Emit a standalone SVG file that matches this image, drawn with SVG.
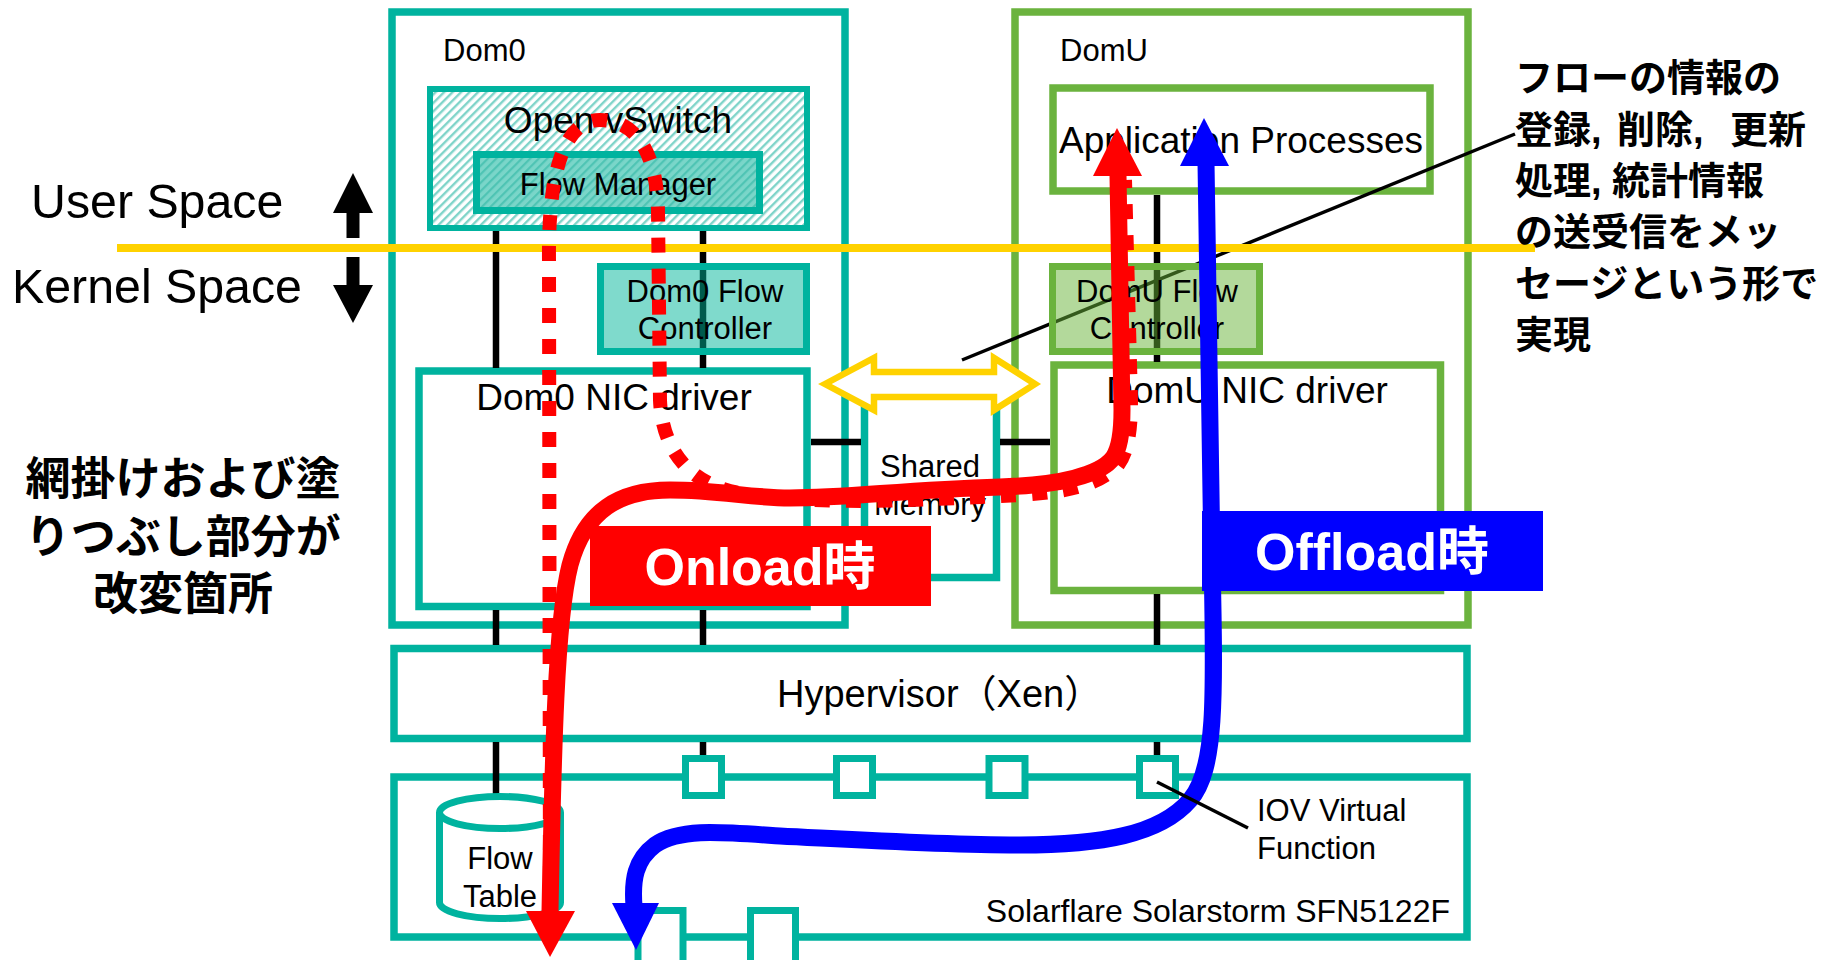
<svg xmlns="http://www.w3.org/2000/svg" width="1827" height="960" viewBox="0 0 1827 960">
<defs>
<style>
.box{fill:#ffffff;stroke-width:7.5}
.open{fill:none;stroke-width:7.5}
.teal{stroke:#00b39f}
.green{stroke:#6bb33e}
.t{font-family:"Liberation Sans",Arial,sans-serif;fill:#000000}
.s31{font-size:31px}
.s37{font-size:37px}
.mid{text-anchor:middle}
.jp{font-family:"Liberation Sans","Noto Sans CJK JP",sans-serif;font-weight:bold}
.conn{stroke:#000000;stroke-width:6.5;fill:none}
.lead{stroke:#000000;stroke-width:3.5;fill:none}
.red{stroke:#ff0000;fill:none}
.blue{stroke:#0000ff;fill:none}
</style>
<pattern id="hatchL" width="6" height="6" patternUnits="userSpaceOnUse" patternTransform="rotate(-45)">
<rect width="6" height="6" fill="#ffffff"/>
<rect width="6" height="2.4" fill="#7fd4c9"/>
</pattern>
<pattern id="hatchD" width="6" height="6" patternUnits="userSpaceOnUse" patternTransform="rotate(-45)">
<rect width="6" height="6" fill="#7ad6c9"/>
<rect width="6" height="2.2" fill="#4fc4b4"/>
</pattern>
</defs>
<rect width="1827" height="960" fill="#ffffff"/>

<g id="dom0"><rect class="open teal" x="392" y="12" width="453" height="613"/><text class="t s31" x="443" y="61">Dom0</text></g>
<g id="domu"><rect class="open green" x="1015" y="12" width="453" height="613"/><text class="t s31" x="1060" y="61">DomU</text></g>
<g id="hypervisor"><rect class="box teal" stroke-width="7" x="394" y="648.5" width="1073" height="90"/><text class="t" style="font-size:38px;font-family:'Liberation Sans','Noto Sans CJK JP',sans-serif" x="777" y="707">Hypervisor（Xen）</text></g>
<g id="nic"><rect class="box teal" stroke-width="7" x="394" y="777" width="1073" height="160"/><text class="t" style="font-size:32px" text-anchor="end" x="1450" y="922">Solarflare Solarstorm SFN5122F</text></g>

<g id="ovs"><rect x="430" y="89" width="377" height="139" fill="url(#hatchL)" stroke="#00b39f" stroke-width="6"/><text class="t s37 mid" x="618" y="133">Open vSwitch</text></g>
<g id="flow-manager"><rect x="476.5" y="154.5" width="283" height="56" fill="url(#hatchD)" stroke="#00b39f" stroke-width="7"/><text class="t s31 mid" x="618" y="195">Flow Manager</text></g>
<g id="app"><rect class="box green" stroke-width="8" x="1053" y="88" width="377" height="103"/><text class="t s37 mid" x="1241" y="153">Application Processes</text></g>
<g id="dom0-nic"><rect class="box teal" x="419" y="371" width="388" height="235.5"/><text class="t s37 mid" x="614" y="410">Dom0 NIC driver</text></g>
<g id="domu-nic"><rect class="box green" x="1054" y="365" width="386.5" height="225.5"/><text class="t s37 mid" x="1247" y="403">DomU NIC driver</text></g>
<g id="shared-memory"><rect class="box teal" x="864.5" y="384" width="132" height="193.5"/><text class="t s31 mid" x="930" y="477">Shared</text><text class="t s31 mid" x="930" y="515">Memory</text></g>

<g id="connectors">
<path class="conn" d="M496,231V368M703,231V368M1157,195V362M496,610V645M703,610V645M1157,594V645M496,742V797M703,742V758M1157,742V758M811,442H861M1000,442H1050"/>
<path class="lead" d="M962,360L1515,134"/>
</g>

<g id="dom0-flow-controller"><rect x="600.5" y="266.5" width="206" height="85" fill="#00b59a" fill-opacity="0.5" stroke="#00b39f" stroke-width="7"/><text class="t s31 mid" x="705" y="302">Dom0 Flow</text><text class="t s31 mid" x="705" y="339">Controller</text></g>
<g id="domu-flow-controller"><rect x="1052.5" y="266.5" width="207" height="85" fill="#67b337" fill-opacity="0.5" stroke="#6bb33e" stroke-width="7"/><text class="t s31 mid" x="1157" y="302">DomU Flow</text><text class="t s31 mid" x="1157" y="339">Controller</text></g>

<g id="vf-ports" fill="#ffffff" stroke="#00b39f" stroke-width="7">
<rect x="685.5" y="758.5" width="36" height="37"/>
<rect x="836.5" y="758.5" width="36" height="37"/>
<rect x="989" y="758.5" width="36" height="37"/>
<rect x="1139.5" y="758.5" width="36" height="37"/>
<rect x="638" y="910.5" width="45" height="60"/>
<rect x="750.5" y="910.5" width="45" height="60"/>
</g>

<g id="flow-table"><path d="M439.5,812.5V902.5A60.5,16 0 0 0 560.5,902.5V812.5" fill="#ffffff" stroke="#00b39f" stroke-width="7"/><ellipse cx="500" cy="812.5" rx="60.5" ry="16" fill="#ffffff" stroke="#00b39f" stroke-width="7"/><text class="t s31 mid" x="500" y="869">Flow</text><text class="t s31 mid" x="500" y="907">Table</text></g>

<g id="space-divider"><line x1="117" y1="248" x2="1535" y2="248" stroke="#ffd200" stroke-width="8"/>
<text class="t" style="font-size:48.3px" x="31" y="218">User Space</text>
<text class="t" style="font-size:48.3px" x="12" y="303">Kernel Space</text>
<polygon points="353,173 373,213 359.5,213 359.5,238 346.5,238 346.5,213 333,213" fill="#000000"/>
<polygon points="346.5,257 359.5,257 359.5,285 373,285 353,323 333,285 346.5,285" fill="#000000"/>
</g>

<g id="shared-arrow"><polygon points="825,384 874,358 874,372 994,372 994,358 1035,384 994,410 994,397 874,397 874,410" fill="#ffffff" stroke="#ffd200" stroke-width="6.5"/></g>

<g id="onload-label"><rect x="590" y="526" width="341" height="80" fill="#ff0000"/><text class="jp mid" style="font-size:52px;fill:#ffffff" x="760" y="585">Onload時</text></g>
<g id="offload-label"><rect x="1202" y="511" width="341" height="80" fill="#0000ff"/><text class="jp mid" style="font-size:52px;fill:#ffffff" x="1372" y="570">Offload時</text></g>

<g id="flows">
<path class="red" stroke-width="14" stroke-dasharray="15 16" d="M550,912L549,260C548,170 565,120 600,120C640,120 657,160 658,210L660,400C662,450 690,485 740,493C780,499 820,501 870,501C920,500 960,498 1020,495C1070,492 1100,484 1118,465C1128,452 1131,430 1131,400L1125,180"/>
<path class="red" stroke-width="17" d="M550,912C553,750 556,620 570,565C585,510 620,490 670,490C720,490 750,498 790,498C850,498 900,490 1000,487C1060,485 1100,475 1113,458C1120,448 1122,430 1122,410L1118,175"/>
<polygon points="1117,128 1142,176 1093,176" fill="#ff0000"/>
<polygon points="550,957 575,911 526,911" fill="#ff0000"/>
<path class="blue" stroke-width="17" d="M1206,162L1212,560C1215,700 1216,770 1190,800C1160,835 1100,845 1020,845C940,845 860,840 780,836C720,832 680,828 655,845C635,860 632,880 634,906"/>
<polygon points="1204,118 1229,166 1180,166" fill="#0000ff"/>
<polygon points="636,950 659,903 612,903" fill="#0000ff"/>
</g>

<g id="iov-label"><path class="lead" d="M1157,782L1248,828"/><text class="t s31" x="1257" y="821">IOV Virtual</text><text class="t s31" x="1257" y="859">Function</text></g>

<g id="note-left" class="jp" style="font-size:45px" text-anchor="middle">
<text x="183" y="495">網掛けおよび塗</text>
<text x="183" y="553">りつぶし部分が</text>
<text x="183" y="610">改変箇所</text>
</g>
<g id="note-right" class="jp" style="font-size:38px">
<text x="1515" y="91">フローの情報の</text>
<text x="1515" y="143">登録, <tspan x="1617">削除, </tspan><tspan x="1730">更新</tspan></text>
<text x="1515" y="194">処理, 統計情報</text>
<text x="1515" y="245">の送受信をメッ</text>
<text x="1515" y="297">セージという形で</text>
<text x="1515" y="348">実現</text>
</g>
</svg>
